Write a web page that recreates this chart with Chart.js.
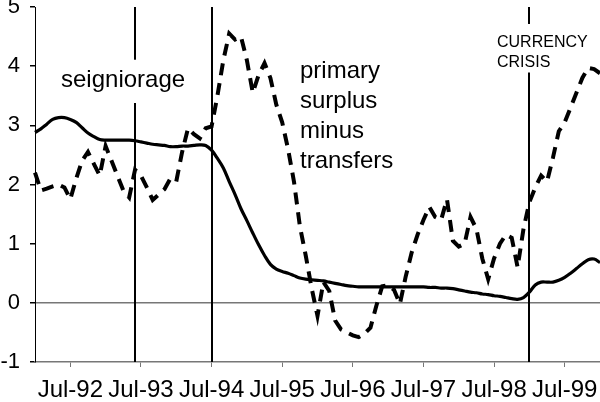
<!DOCTYPE html>
<html>
<head>
<meta charset="utf-8">
<script src="https://cdn.jsdelivr.net/npm/chart.js@4.4.0/dist/chart.umd.min.js"></script>
<style>
  html, body { margin: 0; background: #fff; }
  #wrap { width: 600px; height: 402px; position: relative; }
</style>
</head>
<body>
<div id="wrap"><canvas id="chart"></canvas></div>
<script>
/* seigniorage vs primary surplus minus transfers, monthly Jan-92 .. Jan-00 */
const FONT = "'Liberation Sans', Arial, Helvetica, sans-serif";

const monthNames = ["Jan", "Feb", "Mar", "Apr", "May", "Jun", "Jul", "Aug", "Sep", "Oct", "Nov", "Dec"];
const years = ["92", "93", "94", "95", "96", "97", "98", "99"];
const months = [];
for (const y of years) for (const m of monthNames) months.push(`${m}-${y}`);
months.push("Jan-00");

// solid line
const seigniorage = [
  2.88, 2.94, 3.02, 3.10, 3.13, 3.13, 3.10, 3.05, 2.96, 2.87,
  2.81, 2.76, 2.75, 2.75, 2.75, 2.75, 2.75, 2.74, 2.72, 2.70,
  2.68, 2.67, 2.66, 2.64, 2.64, 2.65, 2.65, 2.66, 2.67, 2.66,
  2.58, 2.44, 2.28, 2.05, 1.83, 1.59, 1.39, 1.18, 0.98, 0.80,
  0.65, 0.57, 0.53, 0.50, 0.46, 0.42, 0.40, 0.39, 0.38, 0.37,
  0.35, 0.33, 0.31, 0.29, 0.28, 0.27, 0.27, 0.27, 0.27, 0.27,
  0.27, 0.27, 0.27, 0.27, 0.27, 0.27, 0.27, 0.26, 0.26, 0.25,
  0.25, 0.24, 0.22, 0.20, 0.18, 0.17, 0.15, 0.14, 0.12, 0.11,
  0.09, 0.07, 0.06, 0.09, 0.18, 0.30, 0.35, 0.35, 0.35, 0.38,
  0.43, 0.50, 0.58, 0.66, 0.73, 0.74, 0.68,
];

// dashed line
const primarySurplus = [
  2.20, 1.90, 1.93, 1.97, 2.00, 1.95, 1.75, 2.10, 2.40, 2.55,
  2.35, 2.15, 2.65, 2.40, 2.15, 1.90, 1.78, 2.25, 2.15, 1.95,
  1.74, 1.83, 1.92, 2.10, 2.05, 2.55, 2.95, 2.85, 2.78, 2.95,
  2.98, 3.50, 4.10, 4.55, 4.45, 4.50, 4.10, 3.55, 3.85, 4.05,
  3.80, 3.35, 3.05, 2.60, 2.05, 1.30, 0.80, 0.25, -0.22, 0.35,
  0.20, -0.30, -0.45, -0.50, -0.55, -0.58, -0.52, -0.42, -0.05, 0.28,
  0.30, 0.22, -0.02, 0.45, 0.85, 1.15, 1.40, 1.62, 1.45, 1.40,
  1.75, 1.05, 0.95, 1.00, 1.45, 1.25, 0.75, 0.40, 0.75, 1.00,
  1.15, 1.10, 0.60, 1.25, 1.70, 1.95, 2.15, 2.05, 2.45, 2.90,
  3.05, 3.30, 3.55, 3.80, 3.97, 3.95, 3.88,
];

const eventMonths = ["Jun-93", "Jul-94", "Jan-99"];

// text notes: left edge, first baseline, size, line step, white box padding
const notes = [
  { lines: ["seigniorage"], x: 61, y: 87, size: 24, step: 30, padTop: 10, padBottom: 16 },
  { lines: ["primary", "surplus", "minus", "transfers"], x: 300, y: 77.5, size: 24, step: 30.2, padTop: 6, padBottom: 8 },
  { lines: ["CURRENCY", "CRISIS"], x: 497, y: 46.5, size: 16, step: 20, padTop: 11, padBottom: 6 },
];

const eventsPlugin = {
  id: "events",
  beforeDatasetsDraw(chart) {
    const { ctx, chartArea, scales } = chart;
    ctx.save();
    ctx.strokeStyle = "#000";
    ctx.lineWidth = 2;
    for (const m of eventMonths) {
      const px = Math.round(scales.x.getPixelForValue(months.indexOf(m)));
      ctx.beginPath();
      ctx.moveTo(px, chartArea.top);
      ctx.lineTo(px, chartArea.bottom);
      ctx.stroke();
    }
    for (const n of notes) {
      ctx.font = `${n.size}px ${FONT}`;
      const w = Math.max(...n.lines.map((l) => ctx.measureText(l).width));
      const top = n.y - n.size * 0.72 - n.padTop;
      const bottom = n.y + (n.lines.length - 1) * n.step + n.padBottom;
      ctx.fillStyle = "#fff";
      ctx.fillRect(n.x - 4, top, w + 8, bottom - top);
      ctx.fillStyle = "#000";
      ctx.textBaseline = "alphabetic";
      n.lines.forEach((l, i) => ctx.fillText(l, n.x, n.y + i * n.step));
    }
    ctx.restore();
  },
};

new Chart(document.getElementById("chart"), {
  type: "line",
  data: {
    labels: months,
    datasets: [
      {
        label: "seigniorage",
        data: seigniorage,
        borderColor: "#000",
        borderWidth: 3.2,
        pointRadius: 0,
        tension: 0.35,
      },
      {
        label: "primary surplus minus transfers",
        data: primarySurplus,
        borderColor: "#000",
        borderWidth: 4,
        borderDash: [12, 8],
        pointRadius: 0,
        tension: 0,
      },
    ],
  },
  options: {
    responsive: true,
    maintainAspectRatio: false,
    animation: false,
    devicePixelRatio: 1,
    layout: { padding: { top: 7, right: 0, left: 0, bottom: 0 } },
    plugins: { legend: { display: false }, tooltip: { enabled: false } },
    scales: {
      x: {
        type: "category",
        offset: false,
        afterBuildTicks: (s) => {
          s.ticks = s.ticks.filter((t) => months[t.value].startsWith("Jul"));
        },
        afterFit: (s) => {
          s.height = 40;
          s.paddingLeft = 0;
          s.paddingRight = 0;
        },
        border: { color: "#777", width: 1.5 },
        grid: { drawOnChartArea: false, tickLength: 5, color: "#777", offset: false },
        ticks: {
          autoSkip: false,
          maxRotation: 0,
          color: "#000",
          padding: 9,
          font: { size: 24, family: FONT },
        },
      },
      y: {
        min: -1,
        max: 5,
        afterFit: (s) => {
          s.width = 35;
          s.paddingTop = 0;
          s.paddingBottom = 0;
        },
        border: { color: "#000", width: 1 },
        grid: {
          color: (c) => (c.tick && c.tick.value === 0 ? "#777" : "rgba(0,0,0,0)"),
          tickColor: "#000",
          lineWidth: 1.5,
          tickLength: 5,
        },
        ticks: {
          stepSize: 1,
          color: "#000",
          padding: 10,
          font: { size: 22, family: FONT },
        },
      },
    },
  },
  plugins: [eventsPlugin],
});
</script>
</body>
</html>
